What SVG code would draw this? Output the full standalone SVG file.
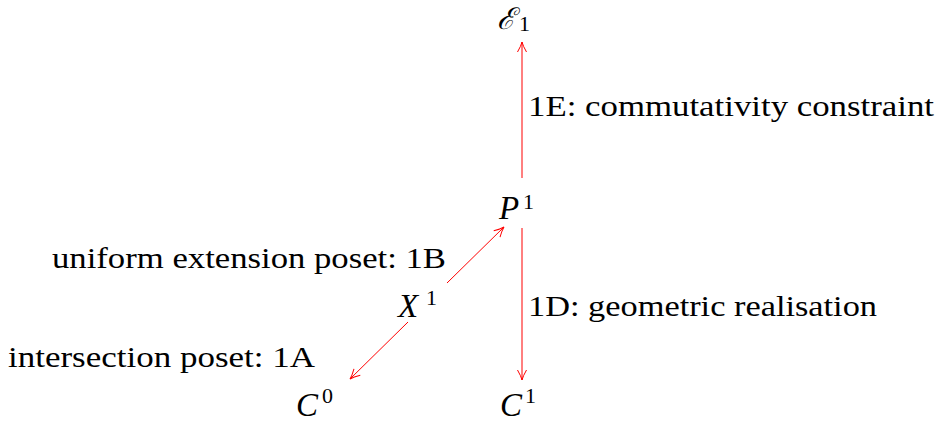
<svg xmlns="http://www.w3.org/2000/svg" width="941" height="422" viewBox="0 0 941 422">
<style>
text{font-family:'Liberation Serif',serif;fill:#000}
.lbl{font-size:29px}
.m{font-style:italic;font-size:33px}
.sup{font-size:22px}
.edge{stroke:#ff0000;stroke-width:1;fill:none}
</style>
<defs>
<marker id="ah" markerUnits="userSpaceOnUse" markerWidth="14" markerHeight="12" viewBox="-11 -6 12 12" refX="0" refY="0" orient="auto">
<path d="M-10,-4.5 Q-4,-1 0,0 Q-4,1 -10,4.5" stroke="#ff0000" stroke-width="1" fill="none"/>
</marker>
</defs>
<rect width="941" height="422" fill="#fff"/>
<g id="connectors">
<line class="edge" x1="522" y1="178" x2="522" y2="42" marker-end="url(#ah)"/>
<line class="edge" x1="522" y1="228" x2="522" y2="380" marker-end="url(#ah)"/>
<line class="edge" x1="447" y1="283" x2="504" y2="227" marker-end="url(#ah)"/>
<line class="edge" x1="408" y1="322" x2="350" y2="379" marker-end="url(#ah)"/>
<text class="lbl" x="528" y="116" textLength="406" lengthAdjust="spacingAndGlyphs">1E: commutativity constraint</text>
<text class="lbl" x="528" y="316" textLength="349" lengthAdjust="spacingAndGlyphs">1D: geometric realisation</text>
<text class="lbl" x="52" y="268" textLength="394" lengthAdjust="spacingAndGlyphs">uniform extension poset: 1B</text>
<text class="lbl" x="8" y="367" textLength="307" lengthAdjust="spacingAndGlyphs">intersection poset: 1A</text>
</g>
<g id="node-E1">
<text x="497" y="29" style="font-family:'Liberation Serif','DejaVu Serif',serif;font-style:italic;font-size:30px">ℰ</text>
<text class="sup" x="519" y="31">1</text>
</g>
<g id="node-P1">
<text class="m" x="499" y="219">P</text>
<text class="sup" x="523" y="209">1</text>
</g>
<g id="node-X1">
<text class="m" x="398" y="317">X</text>
<text class="sup" x="426" y="305">1</text>
</g>
<g id="node-C0">
<text class="m" x="296" y="416">C</text>
<text class="sup" x="322" y="403">0</text>
</g>
<g id="node-C1">
<text class="m" x="500" y="416">C</text>
<text class="sup" x="525" y="403">1</text>
</g>
</svg>
